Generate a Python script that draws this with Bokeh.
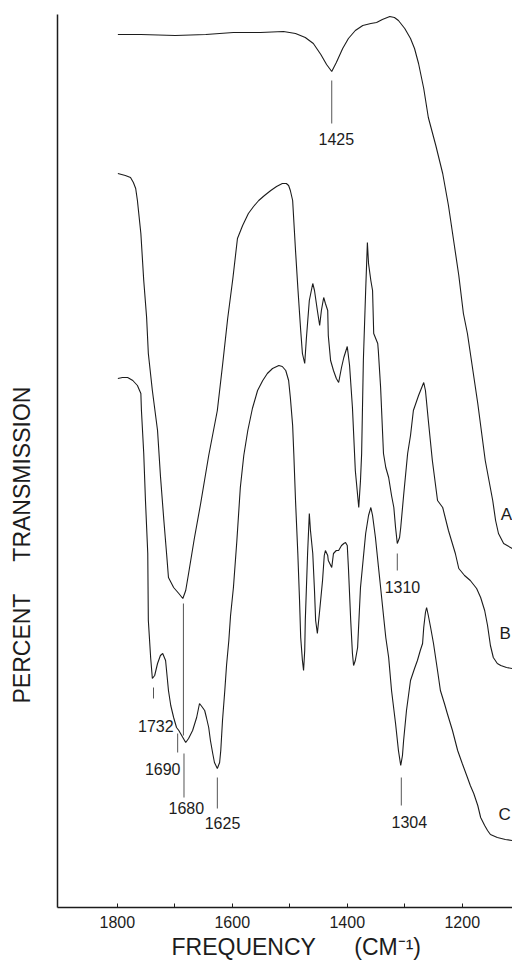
from bokeh.plotting import figure
from bokeh.models import Range1d, FixedTicker, ColumnDataSource, Title
from bokeh.core.properties import value
from bokeh.embed import file_html
from bokeh.resources import INLINE

FONT = "Liberation Sans"
NB = "\u00a0"

# ---- Spectrum A (wavenumber cm-1, transmission, arbitrary units) ----
a_freq = [1799, 1759, 1699, 1646, 1598, 1551, 1511, 1490, 1473, 1459, 1446, 1436,
          1427, 1419, 1408, 1398, 1386, 1373, 1359, 1349, 1339, 1326, 1318, 1311,
          1300, 1290, 1283, 1276, 1267, 1259, 1246, 1234, 1224, 1215, 1206, 1198,
          1191, 1173, 1160, 1147, 1142, 1137, 1128, 1113]
a_trans = [87.3, 87.3, 87.2, 87.3, 87.5, 87.5, 87.6, 87.4, 87.0, 86.4, 85.3, 84.3,
           83.6, 84.5, 85.9, 86.9, 87.7, 88.2, 88.4, 88.5, 88.8, 89.1, 89.0, 88.7,
           87.9, 86.9, 85.9, 84.4, 81.9, 79.0, 76.2, 73.4, 70.2, 66.7, 63.2, 59.4,
           57.4, 50.4, 44.7, 40.7, 38.7, 37.4, 36.4, 35.9]

# ---- Spectrum B ----
b_freq = [1799, 1786, 1777, 1772, 1768, 1765, 1759, 1754, 1749, 1746, 1739, 1730,
          1725, 1719, 1714, 1711, 1702, 1693, 1686, 1681, 1676, 1666, 1655, 1641,
          1626, 1617, 1608, 1599, 1591, 1582, 1572, 1563, 1554, 1544, 1533, 1523,
          1513, 1506, 1502, 1499, 1495, 1492, 1490, 1486, 1481, 1478, 1474, 1471,
          1466, 1460, 1457, 1452, 1448, 1445, 1441, 1438, 1434, 1433, 1429, 1424,
          1419, 1415, 1410, 1406, 1400, 1396, 1391, 1386, 1380, 1377, 1375, 1372,
          1368, 1365, 1363, 1359, 1356, 1354, 1347, 1346, 1342, 1337, 1333, 1328,
          1323, 1319, 1316, 1313, 1309, 1307, 1302, 1295, 1290, 1285, 1276, 1267,
          1264, 1259, 1252, 1243, 1234, 1224, 1212, 1206, 1196, 1186, 1175, 1168,
          1161, 1156, 1151, 1146, 1139, 1133, 1123, 1113]
b_trans = [73.4, 73.2, 73.0, 72.5, 71.9, 70.7, 67.4, 62.7, 59.0, 55.4, 51.7, 47.7,
           43.2, 38.7, 35.2, 33.0, 32.0, 31.4, 30.9, 31.7, 33.4, 36.9, 40.4, 45.2,
           49.7, 54.2, 58.9, 62.9, 66.9, 68.2, 69.4, 70.1, 70.7, 71.2, 71.7, 72.1,
           72.4, 72.4, 72.2, 71.7, 70.7, 67.7, 65.7, 62.0, 57.7, 55.4, 54.4, 57.0,
           60.7, 62.4, 61.7, 59.7, 58.2, 59.7, 61.0, 60.4, 59.7, 57.2, 54.7, 53.7,
           52.9, 52.5, 54.0, 55.0, 56.1, 54.2, 50.0, 43.7, 40.0, 42.7, 45.4, 54.7,
           61.7, 66.5, 64.4, 62.7, 61.7, 57.4, 56.4, 55.7, 52.0, 45.4, 44.0, 43.0,
           41.2, 40.0, 38.0, 36.4, 37.0, 38.0, 41.2, 45.4, 47.2, 49.7, 51.2, 52.5,
           51.7, 48.7, 44.7, 40.7, 40.0, 37.7, 35.4, 33.9, 33.2, 32.7, 31.9, 31.0,
           29.7, 28.2, 26.2, 25.0, 24.4, 24.2, 24.0, 23.9]

# ---- Spectrum C ----
c_freq = [1799, 1791, 1782, 1773, 1765, 1759, 1758, 1754, 1751, 1747, 1746, 1742,
          1739, 1735, 1730, 1725, 1721, 1716, 1711, 1707, 1702, 1697, 1693, 1690,
          1686, 1681, 1676, 1669, 1662, 1657, 1653, 1648, 1645, 1641, 1638, 1634,
          1631, 1626, 1622, 1620, 1617, 1613, 1610, 1606, 1603, 1598, 1592, 1586,
          1580, 1573, 1565, 1556, 1547, 1539, 1530, 1519, 1513, 1507, 1502, 1499,
          1495, 1493, 1490, 1486, 1483, 1481, 1478, 1476, 1474, 1473, 1469, 1466,
          1464, 1460, 1457, 1455, 1452, 1448, 1443, 1440, 1438, 1434, 1433, 1427,
          1424, 1419, 1415, 1410, 1406, 1403, 1400, 1398, 1394, 1391, 1389, 1386,
          1382, 1377, 1372, 1368, 1363, 1359, 1356, 1351, 1346, 1342, 1337, 1333,
          1328, 1323, 1316, 1311, 1307, 1304, 1302, 1297, 1290, 1283, 1278, 1273,
          1269, 1267, 1264, 1262, 1259, 1255, 1250, 1243, 1238, 1231, 1226, 1217,
          1208, 1200, 1191, 1186, 1180, 1173, 1168, 1161, 1156, 1151, 1139, 1125,
          1113]
c_trans = [52.9, 53.0, 53.0, 52.7, 52.2, 51.4, 49.7, 45.4, 40.7, 35.4, 28.7, 25.0,
           22.9, 23.2, 24.4, 25.2, 25.4, 24.7, 21.7, 20.2, 19.0, 18.0, 17.7, 17.4,
           17.0, 16.5, 16.9, 17.7, 19.0, 20.4, 20.1, 19.7, 19.0, 18.0, 16.7, 15.4,
           14.5, 13.9, 14.5, 15.7, 18.7, 21.7, 24.2, 26.7, 29.2, 32.0, 36.7, 42.0,
           45.2, 47.7, 49.9, 51.7, 52.7, 53.4, 53.9, 54.2, 54.1, 53.7, 52.7, 51.0,
           48.2, 45.4, 40.7, 35.4, 30.7, 27.0, 24.7, 23.7, 25.7, 28.7, 35.4, 39.4,
           37.7, 35.4, 31.7, 28.7, 27.4, 29.7, 32.7, 35.2, 35.7, 35.2, 34.7, 34.0,
           35.4, 35.7, 35.7, 36.2, 36.4, 36.5, 36.2, 34.0, 28.7, 25.4, 24.2, 24.7,
           26.0, 32.0, 35.0, 37.4, 39.2, 40.0, 39.2, 37.0, 34.2, 32.0, 29.2, 27.0,
           25.0, 21.7, 18.4, 15.7, 14.2, 15.2, 16.7, 19.7, 22.7, 23.9, 24.7, 25.7,
           26.4, 28.0, 29.5, 30.0, 29.2, 28.0, 26.4, 23.7, 21.7, 20.4, 19.4, 17.7,
           15.7, 14.4, 13.0, 12.2, 11.4, 10.2, 9.0, 8.2, 7.7, 7.3, 7.0, 6.8,
           6.7]

# ---- Band assignment markers ----
mark_freq = [1427, 1685, 1684, 1737, 1695, 1626, 1313, 1306]
mark_top = [82.7, 30.4, 15.4, 22.0, 17.4, 13.0, 35.4, 13.0]
mark_bottom = [78.4, 17.2, 11.0, 20.9, 15.5, 9.9, 33.7, 10.2]

band_text = ["1425", "1732", "1690", "1680", "1625", "1310", "1304"]
band_x = [1419, 1733, 1721, 1680, 1617, 1304, 1292]
band_y = [76.9, 18.2, 13.9, 9.95, 8.5, 32.1, 8.6]

curve_names = ["A", "B", "C"]
curve_name_x = [1133, 1135, 1137]
curve_name_y = [39.3, 27.4, 9.35]

x_major = [1800, 1600, 1400, 1200]
x_minor = [1700, 1500, 1300]

x_title = "FREQUENCY" + NB * 6 + "(CM\u207b\u00b9)"
y_title = "PERCENT" + NB * 5 + "TRANSMISSION"

p = figure(width=512, height=963, output_backend="svg", toolbar_location=None,
           x_range=Range1d(1904, 1112.6), y_range=Range1d(0, 89.3),
           min_border_left=57, min_border_right=0, min_border_top=14,
           min_border_bottom=56)
p.outline_line_color = None
p.grid.visible = False
p.background_fill_color = "white"
p.border_fill_color = "white"

ink = "#1c1c1c"
for fx, ty in ((a_freq, a_trans), (b_freq, b_trans), (c_freq, c_trans)):
    p.line(fx, ty, line_color=ink, line_width=1.1)

p.segment(x0=mark_freq, y0=mark_top, x1=mark_freq, y1=mark_bottom,
          line_color="#555555", line_width=1)

band_src = ColumnDataSource(dict(x=band_x, y=band_y, t=band_text))
p.text(x="x", y="y", text="t", source=band_src, text_align="center",
       text_baseline="middle", text_font=value(FONT),
       text_font_size=value("16px"), text_color=ink)

name_src = ColumnDataSource(dict(x=curve_name_x, y=curve_name_y, t=curve_names))
p.text(x="x", y="y", text="t", source=name_src, text_align="left",
       text_baseline="middle", text_font=value(FONT),
       text_font_size=value("17px"), text_color=ink)

# axes
xa = p.xaxis[0]
xa.ticker = FixedTicker(ticks=x_major, minor_ticks=x_minor)
xa.major_tick_in = 4
xa.major_tick_out = 0
xa.minor_tick_in = 4
xa.minor_tick_out = 0
xa.axis_line_width = 1.5
xa.axis_line_color = ink
xa.major_tick_line_color = ink
xa.minor_tick_line_color = ink
xa.major_label_standoff = 8
xa.major_label_text_font = FONT
xa.major_label_text_font_size = "16px"
xa.major_label_text_color = ink

ya = p.yaxis[0]
ya.ticker = FixedTicker(ticks=[])
ya.major_tick_in = 0
ya.major_tick_out = 0
ya.major_tick_line_color = None
ya.minor_tick_line_color = None
ya.major_label_text_font_size = "0px"
ya.axis_line_width = 1.5
ya.axis_line_color = ink
ya.axis_label = NB
ya.axis_label_standoff = 4
ya.axis_label_text_font_size = "10px"

# axis titles
p.add_layout(Title(text=x_title, align="left", offset=114, standoff=2,
                   text_font=FONT, text_font_size="23px",
                   text_font_style="normal", text_color=ink), "below")
p.add_layout(Title(text=y_title, align="left", offset=204, standoff=10,
                   text_font=FONT, text_font_size="23px",
                   text_font_style="normal", text_color=ink), "left")

open("out.html", "w").write(file_html(p, INLINE))
